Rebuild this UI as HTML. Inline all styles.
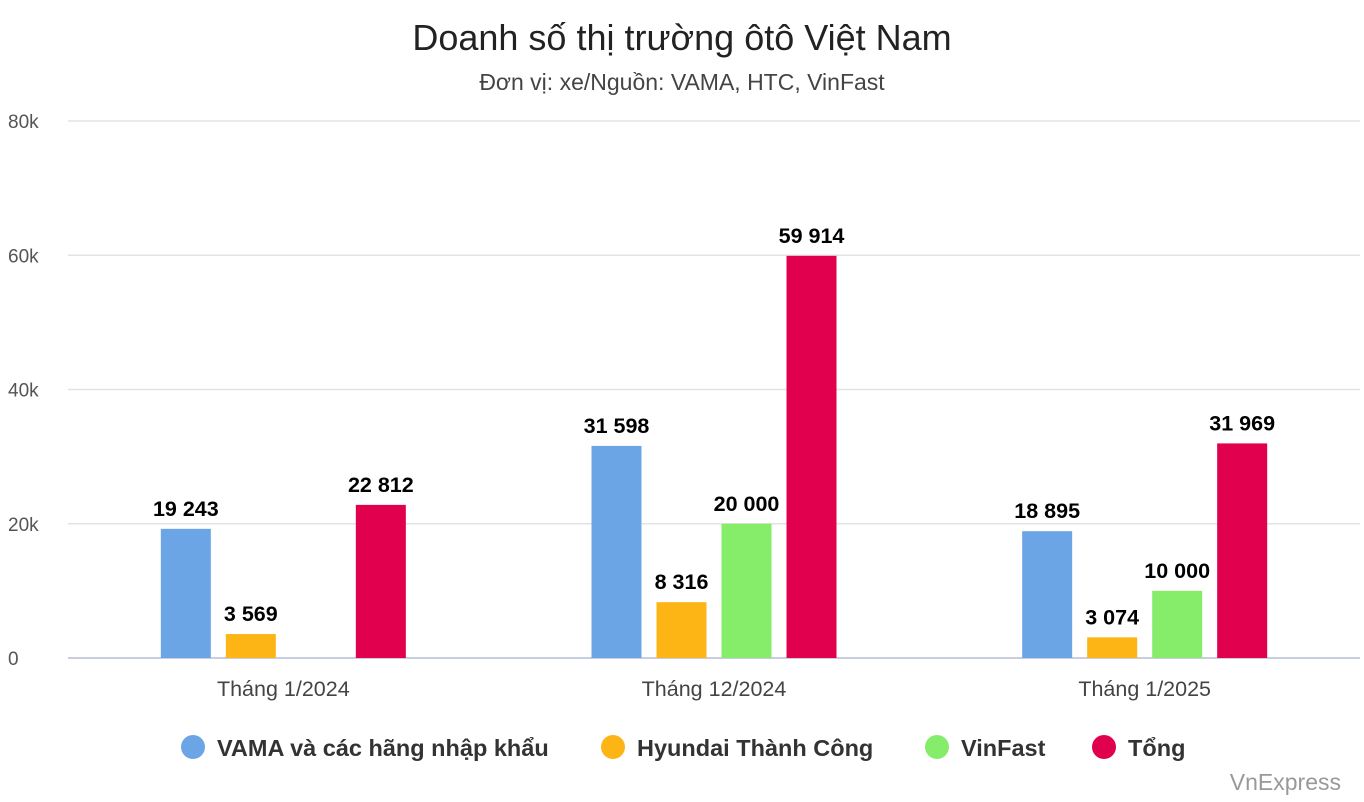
<!DOCTYPE html>
<html><head><meta charset="utf-8"><style>
body{margin:0;background:#fff;font-family:"Liberation Sans",Arial,sans-serif;}
svg{display:block}
</style></head><body>
<svg id="chart" width="1364" height="802">
<text x="682" y="50" text-anchor="middle" font-size="36" fill="#222">Doanh số thị trường ôtô Việt Nam</text>
<text x="682" y="90" text-anchor="middle" font-size="23" fill="#444">Đơn vị: xe/Nguồn: VAMA, HTC, VinFast</text>
<g id="grid"></g><g id="bars"></g><g id="labels"></g>
<g id="legend"></g>
<text x="1341" y="790" text-anchor="end" font-size="23" fill="#999">VnExpress</text>
</svg>
<script>
const categories=["Tháng 1/2024","Tháng 12/2024","Tháng 1/2025"];
const seriesNames=["VAMA và các hãng nhập khẩu","Hyundai Thành Công","VinFast","Tổng"];
const vama=[19243,31598,18895];
const htc=[3569,8316,3074];
const vinfast=[null,20000,10000];
const tong=[22812,59914,31969];
const yTicks=[0,20000,40000,60000,80000];
const yTickLabels=["0","20k","40k","60k","80k"];
const colors=["#6ca5e6","#fdb515","#86ed6b","#e0004d"];
const NS="http://www.w3.org/2000/svg";
const x0=68,x1=1360,y0=658,yTop=121,yMax=80000;
const y=v=>y0-(v/yMax)*(y0-yTop);
const band=(x1-x0)/categories.length;
const cx=i=>x0+band*(i+0.5);
function mk(t,a,p,txt){const e=document.createElementNS(NS,t);for(const k in a)e.setAttribute(k,a[k]);if(txt!=null)e.textContent=txt;p.appendChild(e);return e;}
const grid=document.getElementById('grid');
yTicks.forEach((v,i)=>{
 const l=mk('line',{x1:x0,x2:x1,y1:y(v),y2:y(v),stroke:i==0?'#c8cde0':'#e3e3e3','stroke-width':i==0?2:1.5},grid);
 
 
 const t=mk('text',{x:8,y:y(v)+7,'font-size':19,fill:'#555'},grid,yTickLabels[i]);
 
 
});
categories.forEach((c,i)=>{
 const t=mk('text',{x:cx(i),y:696,'text-anchor':'middle','font-size':21.5,fill:'#444'},grid,c);
 
 
});
const series=[vama,htc,vinfast,tong];
const bars=document.getElementById('bars'),labels=document.getElementById('labels');
const bw=50,step=65;
const fmt=v=>String(v).replace(/\B(?=(\d{3})+(?!\d))/g,' ');
series.forEach((s,j)=>{
 s.forEach((v,i)=>{
  if(v==null)return;
  const bx=cx(i)+(j-1.5)*step-bw/2;
  const r=mk('rect',{x:bx,y:y(v),width:bw,height:y0-y(v),fill:colors[j]},bars);
  
  
  const t=mk('text',{x:bx+bw/2,y:y(v)-13,'text-anchor':'middle','font-size':21.5,'font-weight':'bold',fill:'#000'},labels,fmt(v));
  
  
 });
});
const legend=document.getElementById('legend');
const lx=[193,613,937,1104];
seriesNames.forEach((n,j)=>{
 const g=mk('g',{},legend);
 
 
 mk('circle',{cx:lx[j],cy:747,r:12,fill:colors[j]},g);
 mk('text',{x:lx[j]+24,y:756,'font-size':23.5,'font-weight':'bold',fill:'#333'},g,n);
});
</script>
</body></html>
